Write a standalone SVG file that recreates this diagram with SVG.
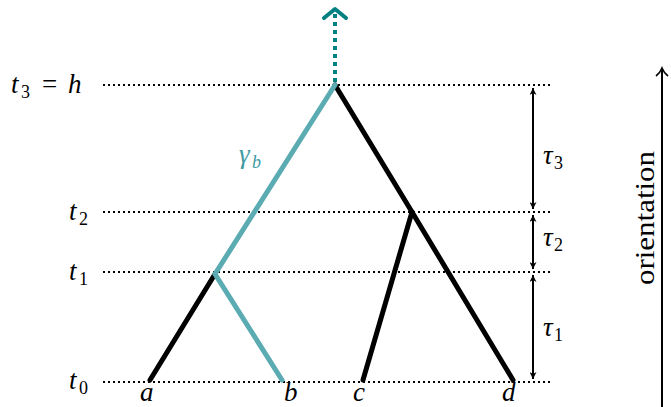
<svg xmlns="http://www.w3.org/2000/svg" width="671" height="407" viewBox="0 0 671 407">
<defs>
<style>
text{font-family:'Liberation Serif','DejaVu Serif',serif}
.lvl{stroke:#000;stroke-width:2;stroke-dasharray:2 3;fill:none}
.br{stroke:#000;stroke-width:5;fill:none;stroke-linecap:round}
.tl{stroke:#5BABB2;stroke-width:5;fill:none;stroke-linecap:round}
.m{font-style:italic;font-size:27px;fill:#000}
.sub{font-size:18px;font-style:normal}
.tau{stroke:#000;stroke-width:2;fill:none}
.lab{font-size:27px;fill:#000}
</style>
<marker id="ah" viewBox="0 0 10 10" refX="10" refY="5" markerWidth="7" markerHeight="7" orient="auto-start-reverse" markerUnits="userSpaceOnUse">
<path d="M0,0 L10,5 L0,10 L3,5 Z" fill="#000"/>
</marker>
</defs>
<g id="levels">
<line class="lvl" x1="103" y1="85" x2="553" y2="85"/>
<line class="lvl" x1="103" y1="212" x2="553" y2="212"/>
<line class="lvl" x1="103" y1="272" x2="553" y2="272"/>
<line class="lvl" x1="103" y1="382" x2="553" y2="382"/>
</g>
<g id="level-labels">
<text class="m" x="11" y="93">t</text><text class="m sub" x="21" y="98">3</text>
<text class="m" x="42" y="93" style="font-style:normal">=</text><text class="m" x="68" y="93">h</text>
<text class="m" x="69" y="220">t</text><text class="m sub" x="79" y="225">2</text>
<text class="m" x="69" y="280">t</text><text class="m sub" x="79" y="285">1</text>
<text class="m" x="69" y="389">t</text><text class="m sub" x="79" y="394">0</text>
</g>
<g id="connectors">
<path class="br" d="M215,274 L150,380"/>
<path class="br" d="M335,85 L412,212 L513,380"/>
<path class="br" d="M412,212 L363,380"/>
<path class="tl" d="M335,85 L215,274 L282,380"/>
<line x1="335" y1="82" x2="335" y2="14" stroke="#008080" stroke-width="4" stroke-dasharray="4 4"/>
<path d="M324,18 L335,9 L346,18" stroke="#008080" stroke-width="4" fill="none" stroke-linecap="round" stroke-linejoin="round"/>
</g>
<g id="leaf-labels">
<text class="m" x="140" y="401">a</text>
<text class="m" x="284" y="401">b</text>
<text class="m" x="353" y="401">c</text>
<text class="m" x="502" y="401">d</text>
</g>
<g id="gamma">
<text class="m" x="239" y="163" style="fill:#3E9BA3">γ</text><text class="m sub" x="252" y="168" style="fill:#3E9BA3;font-style:italic">b</text>
</g>
<g id="taus">
<line class="tau" x1="533" y1="88" x2="533" y2="209" marker-start="url(#ah)" marker-end="url(#ah)"/>
<line class="tau" x1="533" y1="215" x2="533" y2="269" marker-start="url(#ah)" marker-end="url(#ah)"/>
<line class="tau" x1="533" y1="275" x2="533" y2="379" marker-start="url(#ah)" marker-end="url(#ah)"/>
<text class="m" x="543" y="164">τ</text><text class="m sub" x="554" y="169">3</text>
<text class="m" x="543" y="246">τ</text><text class="m sub" x="554" y="251">2</text>
<text class="m" x="543" y="336">τ</text><text class="m sub" x="554" y="341">1</text>
</g>
<g id="orientation">
<line x1="662" y1="407" x2="662" y2="70" stroke="#000" stroke-width="2"/>
<path d="M656,76 Q660,73 662,68 Q664,73 668,76" stroke="#000" stroke-width="1.6" fill="none"/>
<text class="lab" transform="translate(654,218) rotate(-90)" text-anchor="middle" textLength="134" lengthAdjust="spacingAndGlyphs">orientation</text>
</g>
</svg>
